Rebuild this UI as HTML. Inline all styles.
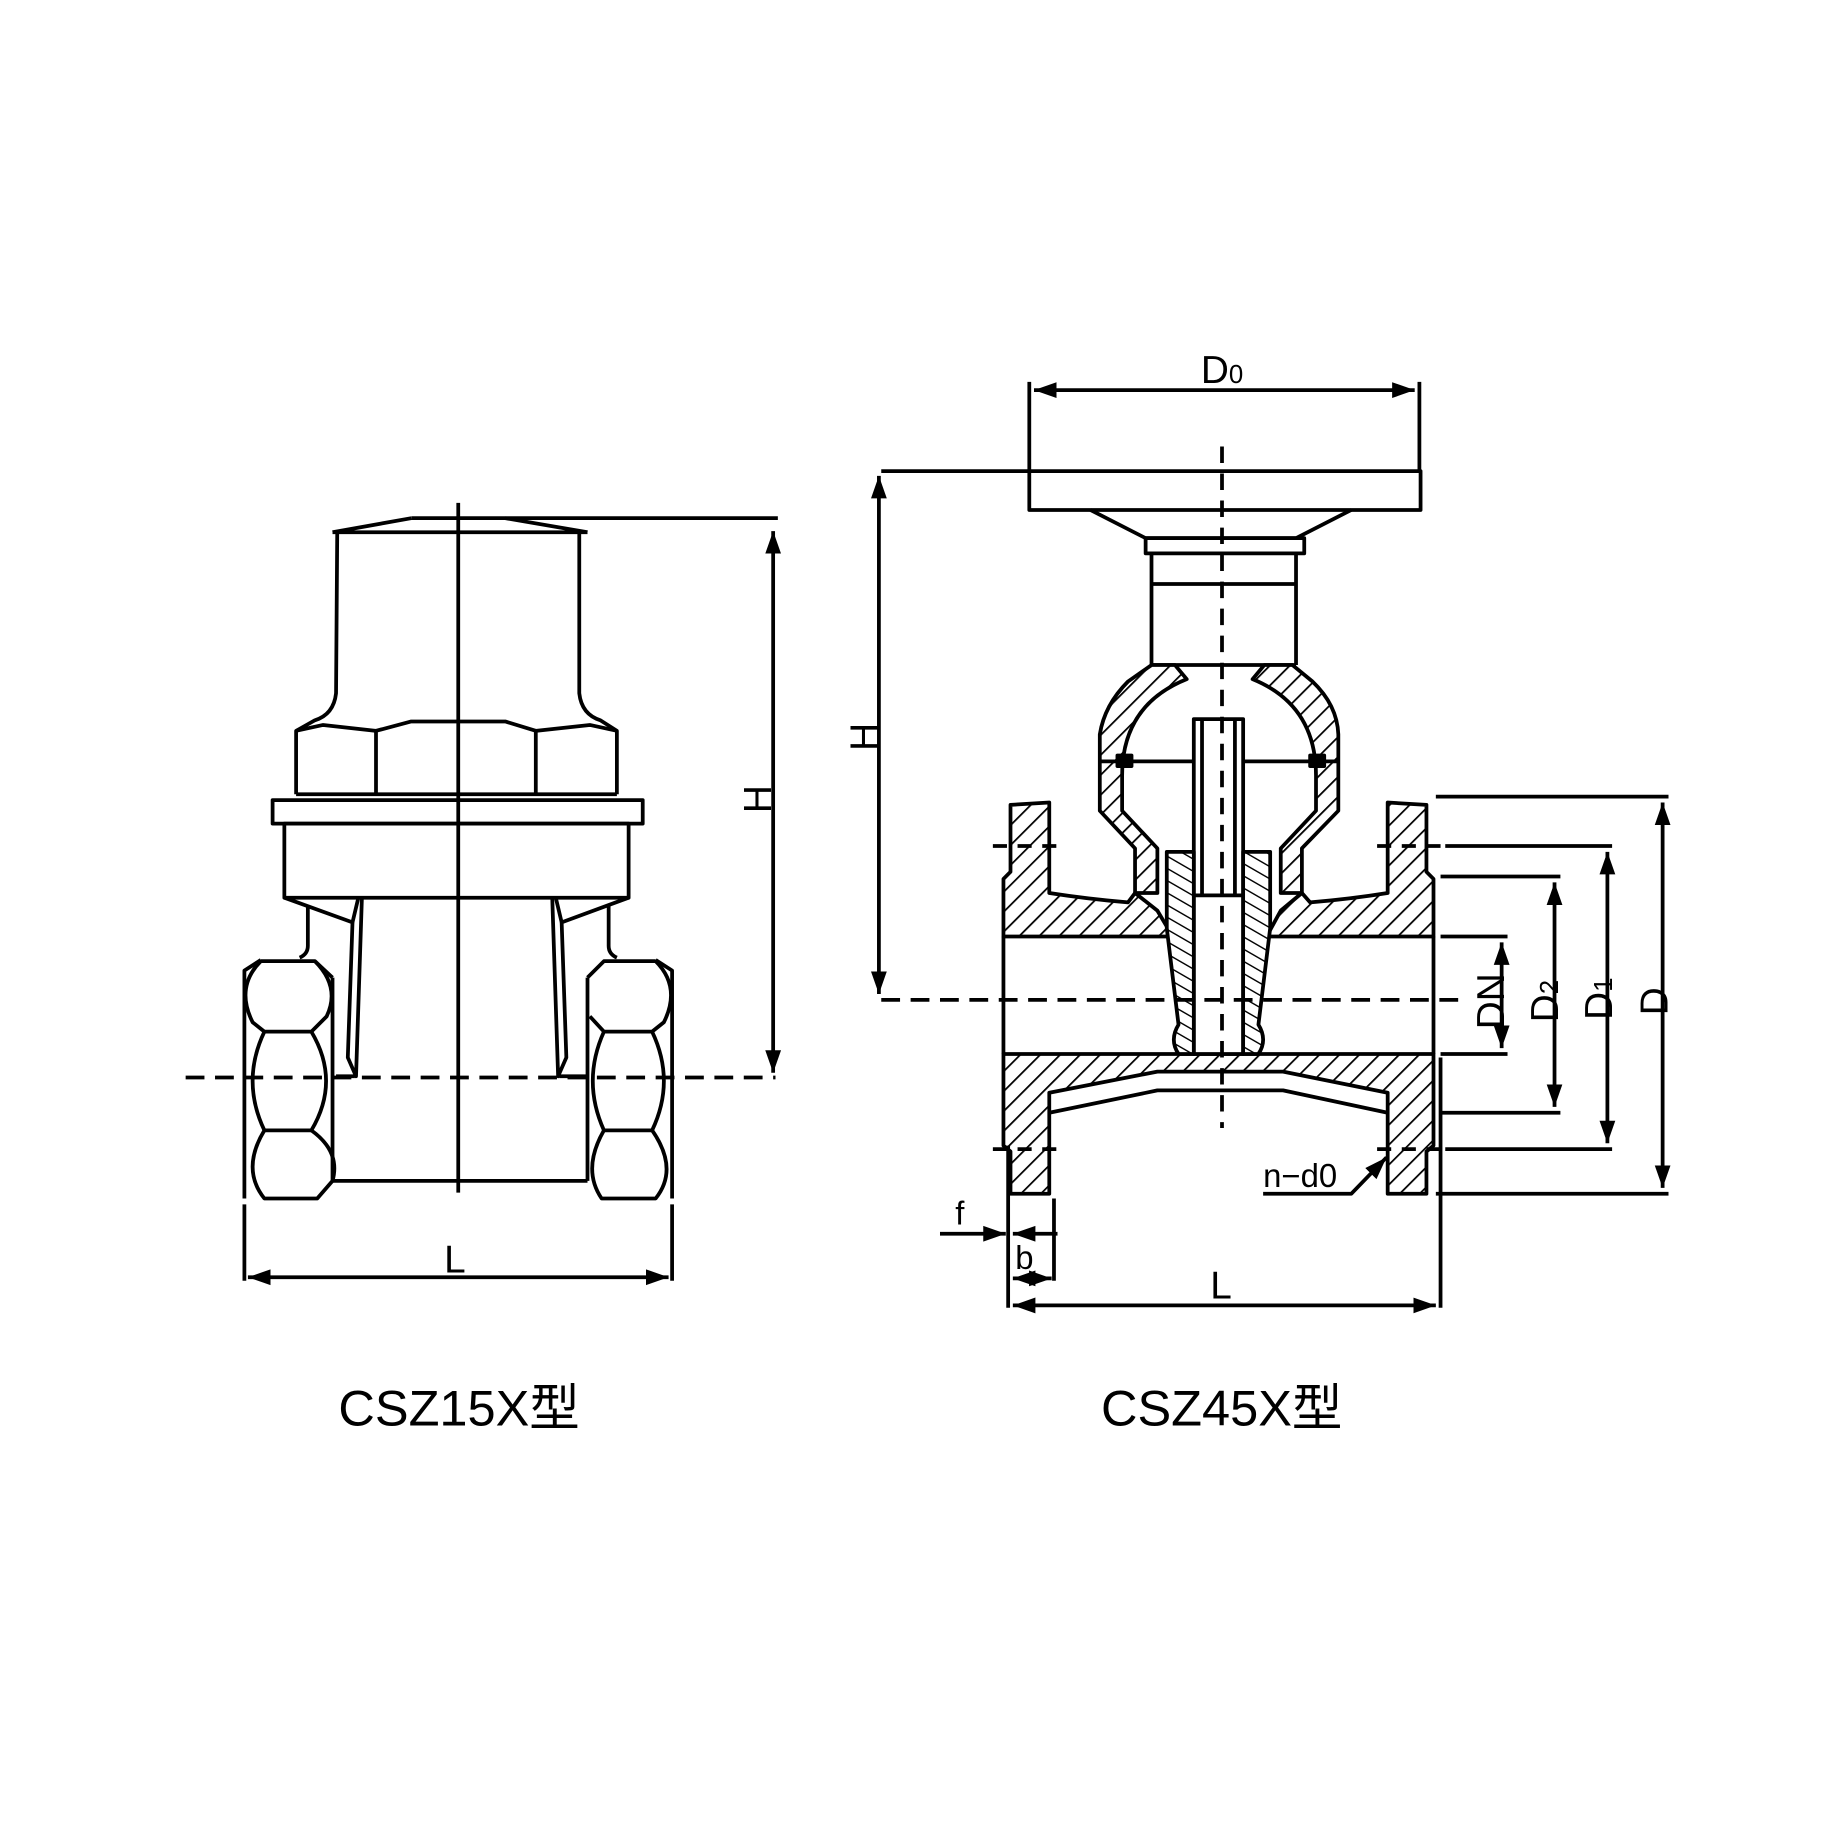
<!DOCTYPE html>
<html><head><meta charset="utf-8"><style>
html,body{margin:0;padding:0;background:#fff;}
svg{display:block;}
text{font-family:"Liberation Sans","Noto Sans CJK SC",sans-serif;fill:#000;}
</style></head><body>
<svg width="1833" height="1833" viewBox="0 0 1560 1560" xmlns="http://www.w3.org/2000/svg">
<defs>
<pattern id="h" patternUnits="userSpaceOnUse" width="12" height="12" patternTransform="rotate(45)">
<rect width="12" height="12" fill="#fff"/><line x1="0" y1="0" x2="0" y2="12" stroke="#000" stroke-width="3"/></pattern>
<pattern id="h2" patternUnits="userSpaceOnUse" width="9" height="9" patternTransform="rotate(-60)">
<rect width="9" height="9" fill="#fff"/><line x1="0" y1="0" x2="0" y2="9" stroke="#000" stroke-width="2.4"/></pattern>
<marker id="a" viewBox="0 0 10 10" refX="10" refY="5" markerWidth="6" markerHeight="6" orient="auto-start-reverse"><path d="M0,1.5 L10,5 L0,8.5Z" fill="#000"/></marker>
</defs>
<g fill="none" stroke="#000" stroke-width="3.2" stroke-linejoin="round">
<!-- LEFT VALVE -->
<path d="M350,441 L662,441"/>
<path d="M283,453 L350,441 M430,441 L500,453 M283,453 L500,453"/>
<path d="M287,453 L286,590 Q284,608 268,613 L252,622 L252,676 M493,453 L493,590 Q495,608 511,613 L525,622 L525,676"/>
<path d="M252,622 L275,617 L320,622 L350,614 L430,614 L456,622 L502,617 L525,622"/>
<path d="M320,622 L320,676 M456,622 L456,676 M252,676 L525,676"/>
<rect x="232" y="681" width="315" height="20"/>
<rect x="242" y="701" width="293" height="63"/>
<path d="M242,764 L300,785 L305,764 M535,764 L478,785 L473,764"/>
<path d="M262,771 L262,805 Q262,812 255,815 M518,771 L518,805 Q518,812 525,815"/>
<path d="M300,785 L296,900 L303,916 L308,764 M478,785 L482,900 L475,916 L470,764"/>
<path d="M286,916 L302,916 M476,916 L500,916"/>
<path d="M222,817 L208,826 L208,1020 M283,832 L283,1005 M283,832 L268,818 L222,818"/>
<path d="M222,818 Q200,840 215,870 L225,878 L265,878 L278,865 Q290,840 268,818"/>
<path d="M225,878 Q205,920 225,962 L265,962 Q290,920 265,878"/>
<path d="M225,962 Q205,995 225,1020 L270,1020 L283,1005 Q290,980 265,962"/>
<path d="M558,817 L572,826 L572,1020 M500,832 L500,1005 M500,832 L514,818 L558,818"/>
<path d="M558,818 Q580,840 565,870 L555,878 L514,878 L502,865 M555,878 Q575,920 555,962 L514,962 Q495,920 514,878"/>
<path d="M514,962 Q495,995 512,1020 L558,1020 Q578,995 555,962"/>
<path d="M283,1005 L500,1005"/>
<path d="M390,428 L390,1015"/>
<path d="M158,917 L660,917" stroke-dasharray="16,9"/>
<path d="M658,452 L658,913" marker-start="url(#a)" marker-end="url(#a)"/>
<path d="M208,1025 L208,1090 M572,1025 L572,1090"/>
<path d="M211,1087 L569,1087" marker-start="url(#a)" marker-end="url(#a)"/>

<!-- RIGHT VALVE -->
<rect x="876" y="401" width="333" height="33"/>
<path d="M750,401 L876,401"/>
<path d="M876,325 L876,401 M1208,325 L1208,401"/>
<path d="M880,332 L1204,332" marker-start="url(#a)" marker-end="url(#a)"/>
<path d="M748,405 L748,846" marker-start="url(#a)" marker-end="url(#a)"/>
<path d="M928,434 L975,458 L1103,458 L1150,434"/>
<rect x="975" y="458" width="135" height="13"/>
<path d="M980,471 L980,566 M1103,471 L1103,566 M980,497 L1103,497 M980,566 L1103,566"/>
<path fill="url(#h)" d="M980,566 L960,580 Q940,600 936,625 L936,690 L966,722 L966,760 L985,760 L985,722 L955,690 L955,660 Q955,600 1010,578 L1000,566 Z"/>
<path fill="url(#h)" d="M1100,566 L1117,580 Q1138,600 1139,625 L1139,690 L1108,722 L1108,760 L1090,760 L1090,722 L1120,690 L1120,660 Q1120,600 1066,578 L1076,566 Z"/>
<path d="M936,648 L1139,648"/>
<rect x="951" y="643" width="12" height="9" fill="#000"/>
<rect x="1115" y="643" width="12" height="9" fill="#000"/>
<path fill="url(#h)" d="M854,797 L854,748 L860,742 L860,685 L893,683 L893,760 Q925,765 960,768 L966,760 L985,775 L998,797 Z"/>
<path fill="url(#h)" d="M1220,797 L1220,748 L1214,742 L1214,685 L1181,683 L1181,760 Q1150,765 1115,768 L1108,760 L1090,775 L1078,797 Z"/>
<path fill="url(#h)" d="M854,897 L1220,897 L1220,975 L1214,980 L1214,1016 L1181,1016 L1181,930 L1092,912 L985,912 L893,930 L893,1016 L860,1016 L860,980 L854,975 Z"/>
<path d="M893,947 L985,928 L1092,928 L1181,947"/>
<path d="M854,797 L854,897 M1220,797 L1220,897"/>
<rect x="1016" y="612" width="42" height="285" fill="#fff"/>
<path d="M1023,612 L1023,762 M1051,612 L1051,762 M1016,762 L1058,762"/>
<path fill="url(#h2)" d="M993,725 L1016,725 L1016,897 L1003,897 Q995,885 1003,872 L993,790 Z"/>
<path fill="url(#h2)" d="M1081,725 L1058,725 L1058,897 L1071,897 Q1079,885 1071,872 L1081,790 Z"/>
<path d="M1040,380 L1040,960" stroke-dasharray="14,9"/>
<path d="M750,851 L1250,851" stroke-dasharray="16,9"/>
<path d="M845,720 L905,720 M1172,720 L1228,720 M845,978 L905,978 M1172,978 L1228,978" stroke-dasharray="12,9"/>
<path d="M1222,678 L1420,678 M1230,720 L1372,720 M1226,746 L1328,746 M1226,797 L1283,797 M1226,897 L1283,897 M1226,947 L1328,947 M1230,978 L1372,978 M1222,1016 L1420,1016"/>
<path d="M1278,802 L1278,892" marker-start="url(#a)" marker-end="url(#a)"/>
<path d="M1323,751 L1323,942" marker-start="url(#a)" marker-end="url(#a)"/>
<path d="M1368,725 L1368,973" marker-start="url(#a)" marker-end="url(#a)"/>
<path d="M1415,683 L1415,1011" marker-start="url(#a)" marker-end="url(#a)"/>
<path d="M858,975 L858,1113 M1226,900 L1226,1113 M897,1020 L897,1090"/>
<path d="M862,1111 L1222,1111" marker-start="url(#a)" marker-end="url(#a)"/>
<path d="M800,1050 L856,1050" marker-end="url(#a)"/>
<path d="M900,1050 L862,1050" marker-end="url(#a)"/>
<path d="M862,1088 L895,1088" marker-start="url(#a)" marker-end="url(#a)"/>
<path d="M1075,1016 L1150,1016 L1180,985" marker-end="url(#a)"/>
</g>
<g font-size="33">
<text x="378" y="1083">L</text>
<text x="1030" y="1105">L</text>
<text x="1022" y="326">D<tspan font-size="22">0</tspan></text>
<text x="813" y="1042" font-size="28">f</text>
<text x="864" y="1080" font-size="28">b</text>
<text x="1075" y="1010" font-size="28">n−d0</text>
<text transform="translate(656,692) rotate(-90)">H</text>
<text transform="translate(747,639) rotate(-90)">H</text>
<text transform="translate(1280,876) rotate(-90)">DN</text>
<text transform="translate(1326,870) rotate(-90)">D<tspan font-size="22">2</tspan></text>
<text transform="translate(1372,868) rotate(-90)">D<tspan font-size="22">1</tspan></text>
<text transform="translate(1419,864) rotate(-90)">D</text>
<text x="288" y="1213" font-size="43">CSZ15X型</text>
<text x="937" y="1213" font-size="43">CSZ45X型</text>
</g>
</svg>
</body></html>
